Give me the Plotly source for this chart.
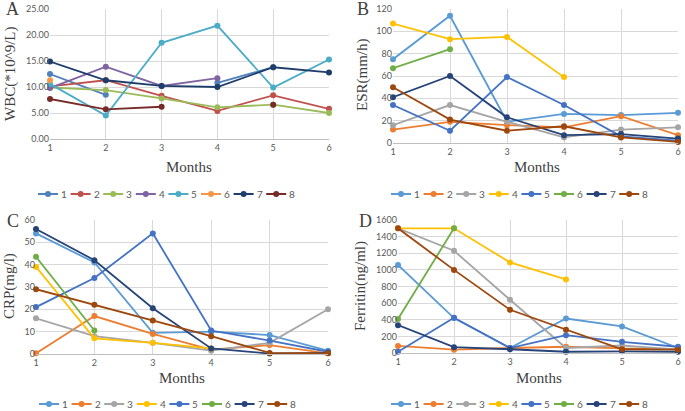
import plotly.graph_objects as go

months = [1, 2, 3, 4, 5, 6]
series_names = ["1", "2", "3", "4", "5", "6", "7", "8"]

# A: WBC (*10^9/L)
wbc = [
    [12.5, 8.5, None, 10.8, 13.8, None],
    [10.1, 11.3, 8.3, 5.4, 8.4, 5.8],
    [9.9, 9.4, 7.8, 6.1, 6.6, 5.0],
    [9.8, 13.9, 10.2, 11.7, None, None],
    [10.6, 4.5, 18.5, 21.8, 9.9, 15.3],
    [11.3, None, None, None, None, None],
    [14.9, 11.3, 10.2, 10.0, 13.8, 12.8],
    [7.7, 5.7, 6.2, None, 6.6, None],
]
# B: ESR (mm/h)
esr = [
    [75, 114, 19, 26, 25, 27],
    [12, 19, 16, 14, 24, 7],
    [16, 34, 19, 5, 12, 14],
    [107, 93, 95, 59, None, None],
    [34, 11, 59, 34, 6, 2],
    [67, 84, None, None, None, None],
    [41, 60, 23, 7, 8, 4],
    [50, 21, 11, 15, 5, 1],
]
# C: CRP (mg/l)
crp = [
    [54, 41, 9.5, 10, 8.5, 1.5],
    [0.3, 17, 9, 2, 4, 0.3],
    [16, 8, 5, 1.5, 5, 20],
    [39, 7, 5, 2.5, None, None],
    [21, 34, 54, 10.5, 6, 1],
    [43.5, 10.5, None, None, None, None],
    [56, 42, 20.5, 2.5, 0.2, 0.5],
    [29, 22, 15, 8, 0.5, 0.3],
]
# D: Ferritin (ng/ml)
ferritin = [
    [1060, 420, 60, 415, 320, 60],
    [85, 40, 60, 75, 55, 50],
    [1500, 1230, 640, 60, 90, 40],
    [1500, 1500, 1090, 885, None, None],
    [15, 425, 60, 215, 135, 75],
    [410, 1500, None, None, None, None],
    [335, 70, 45, 15, 20, 15],
    [1500, 1000, 520, 280, 45, 40],
]

colors_2007 = ["#4F81BD", "#C0504D", "#9BBB59", "#8064A2", "#4BACC6", "#F79646", "#1F3D6B", "#772C2A"]
colors_2013 = ["#5B9BD5", "#ED7D31", "#A5A5A5", "#FFC000", "#4472C4", "#70AD47", "#264478", "#9E480E"]

W, H = 685, 411

panels = [
    # data, colors, axis suffix, x domain (px), y domain (px from top), y range, dtick, tickformat, legend start/y (px)
    (wbc, colors_2007, "", (50, 329), (9, 139), [0, 25], 5, ".2f", (38, 194)),
    (esr, colors_2013, "2", (393, 678), (9, 143), [0, 120], 20, "", (391, 194)),
    (crp, colors_2013, "3", (36, 328), (220, 354), [0, 60], 10, "", (39, 404)),
    (ferritin, colors_2013, "4", (398, 678), (220, 353), [0, 1600], 200, "", (391, 404)),
]

fig = go.Figure()
layout = dict(
    width=W, height=H, margin=dict(l=0, r=0, t=0, b=0),
    paper_bgcolor="white", plot_bgcolor="white",
    font=dict(family="Lato, sans-serif", size=9, color="#595959"),
    showlegend=False, annotations=[], shapes=[],
)

for data, cols, sfx, (xa, xb), (ya, yb), yr, dt, tf, (lx, ly) in panels:
    for name, vals, c in zip(series_names, data, cols):
        fig.add_trace(go.Scatter(
            x=months, y=vals, name=name, mode="lines+markers",
            line=dict(color=c, width=1.8), marker=dict(color=c, size=6),
            xaxis="x" + sfx, yaxis="y" + sfx, cliponaxis=False,
        ))
    layout["xaxis" + sfx] = dict(
        domain=[xa / W, xb / W], anchor="y" + sfx, range=[1, 6], tickvals=months,
        showgrid=True, gridcolor="#D9D9D9", gridwidth=1, automargin=False,
        showline=True, linecolor="#BFBFBF", zeroline=False, ticks="",
        tickfont=dict(size=9, color="#595959"),
    )
    layout["yaxis" + sfx] = dict(
        domain=[1 - yb / H, 1 - ya / H], anchor="x" + sfx, range=yr, dtick=dt, tickformat=tf,
        showgrid=True, gridcolor="#D9D9D9", gridwidth=1, automargin=False,
        showline=False, zeroline=False, ticks="",
        tickfont=dict(size=9, color="#595959"),
    )
    # legend row below each panel (Excel style: short line, dot, label)
    step = 32.6
    for i, (name, c) in enumerate(zip(series_names, cols)):
        x0 = lx + i * step
        yy = 1 - ly / H
        layout["shapes"].append(dict(
            type="line", xref="paper", yref="paper",
            x0=x0 / W, x1=(x0 + 20) / W, y0=yy, y1=yy,
            line=dict(color=c, width=2),
        ))
        layout["shapes"].append(dict(
            type="circle", xref="paper", yref="paper",
            xsizemode="pixel", ysizemode="pixel",
            xanchor=(x0 + 10) / W, yanchor=yy, x0=-3, x1=3, y0=-3, y1=3,
            fillcolor=c, line=dict(color=c, width=0),
        ))
        layout["annotations"].append(dict(
            text=name, x=(x0 + 21) / W, y=yy, xref="paper", yref="paper",
            xanchor="left", yanchor="middle", showarrow=False,
            font=dict(family="Lato, sans-serif", size=10, color="#595959"),
        ))

serif = "Liberation Serif, Times New Roman, serif"
texts = [
    ("A", 12, 9, 0, 18), ("B", 363, 9, 0, 18), ("C", 13, 221, 0, 18), ("D", 365, 221, 0, 18),
    ("Months", 189, 167, 0, 15), ("Months", 537, 167, 0, 15),
    ("Months", 182, 378, 0, 15), ("Months", 539, 378, 0, 15),
    ("WBC(*10^9/L)", 10, 74, -90, 15), ("ESR(mm/h)", 362, 75, -90, 15),
    ("CRP(mg/l)", 9, 286, -90, 15), ("Ferritin(ng/ml)", 360, 286, -90, 15),
]
for t, px_, py_, ang, sz in texts:
    layout["annotations"].append(dict(
        text=t, x=px_ / W, y=1 - py_ / H, xref="paper", yref="paper",
        xanchor="center", yanchor="middle", showarrow=False, textangle=ang,
        font=dict(family=serif, size=sz, color="#404040"),
    ))

fig.update_layout(**layout)
# the page's default body margin would shift the whole figure by 8px
fig.write_html("out.html", config={"displayModeBar": False},
               post_script="document.body.style.margin='0';")
